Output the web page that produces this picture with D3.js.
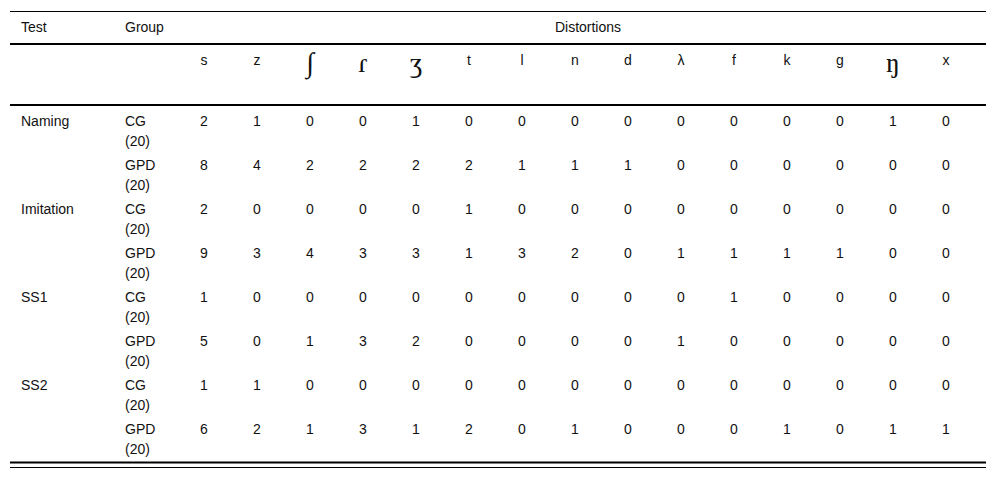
<!DOCTYPE html>
<html>
<head>
<meta charset="utf-8">
<script src="https://cdn.jsdelivr.net/npm/d3@7"></script>
<style>
  body { margin: 0; background: #fff; }
  svg text { font-family: "Liberation Sans", "Arimo", sans-serif; font-size: 14px; fill: #111; }
</style>
</head>
<body>
<div id="table"></div>
<script>
var sounds = ["s", "z", "\u222B", "\u027E", "\u0292", "t", "l", "n", "d", "\u03BB", "f", "k", "g", "\u014B", "x"];
var bigSounds = ["\u222B", "\u027E", "\u0292", "\u014B"];
var tests = ["Naming", "Imitation", "SS1", "SS2"];
var groups = ["CG", "GPD"];
var groupSize = "(20)";

var namingCG   = [2, 1, 0, 0, 1, 0, 0, 0, 0, 0, 0, 0, 0, 1, 0];
var namingGPD  = [8, 4, 2, 2, 2, 2, 1, 1, 1, 0, 0, 0, 0, 0, 0];
var imitCG     = [2, 0, 0, 0, 0, 1, 0, 0, 0, 0, 0, 0, 0, 0, 0];
var imitGPD    = [9, 3, 4, 3, 3, 1, 3, 2, 0, 1, 1, 1, 1, 0, 0];
var ss1CG      = [1, 0, 0, 0, 0, 0, 0, 0, 0, 0, 1, 0, 0, 0, 0];
var ss1GPD     = [5, 0, 1, 3, 2, 0, 0, 0, 0, 1, 0, 0, 0, 0, 0];
var ss2CG      = [1, 1, 0, 0, 0, 0, 0, 0, 0, 0, 0, 0, 0, 0, 0];
var ss2GPD     = [6, 2, 1, 3, 1, 2, 0, 1, 0, 0, 0, 1, 0, 1, 1];

var rows = [namingCG, namingGPD, imitCG, imitGPD, ss1CG, ss1GPD, ss2CG, ss2GPD];

var width = 996, height = 481;
var left = 10, right = 986;

var svg = d3.select("#table").append("svg").attr("width", width).attr("height", height);

var xScale = d3.scalePoint().domain(d3.range(sounds.length)).range([204, 946]);
var yScale = d3.scaleBand().domain(d3.range(rows.length)).range([106, 458]);

function hline(y, w) {
  svg.append("line").attr("x1", left).attr("x2", right).attr("y1", y).attr("y2", y)
    .attr("stroke", "#000").attr("stroke-width", w);
}
hline(11.5, 1);
hline(44, 2);
hline(105, 2);
hline(462.5, 2);
hline(467.5, 1);

// header
svg.append("text").attr("x", 21).attr("y", 32).text("Test");
svg.append("text").attr("x", 125).attr("y", 32).text("Group");
svg.append("text").attr("x", 588).attr("y", 32).attr("text-anchor", "middle").text("Distortions");

svg.selectAll(".snd").data(sounds).enter().append("text")
  .attr("class", "snd")
  .attr("x", function(d, i) { return xScale(i); })
  .attr("y", function(d) { return bigSounds.indexOf(d) >= 0 ? 72 : 65; })
  .attr("text-anchor", "middle")
  .style("font-family", function(d) { return bigSounds.indexOf(d) >= 0 ? "'Liberation Serif', 'DejaVu Serif', serif" : null; })
  .style("font-size", function(d) { return bigSounds.indexOf(d) >= 0 ? "28px" : null; })
  .text(function(d) { return d; });

// body
rows.forEach(function(row, r) {
  var y0 = yScale(r) + 20;
  if (r % 2 === 0) {
    svg.append("text").attr("x", 21).attr("y", y0).text(tests[r / 2]);
  }
  svg.append("text").attr("x", 125).attr("y", y0).text(groups[r % 2]);
  svg.append("text").attr("x", 125).attr("y", y0 + 20).text(groupSize);
  svg.selectAll(".v" + r).data(row).enter().append("text")
    .attr("class", "v" + r)
    .attr("x", function(d, i) { return xScale(i); })
    .attr("y", y0)
    .attr("text-anchor", "middle")
    .text(function(d) { return d; });
});
</script>
</body>
</html>
